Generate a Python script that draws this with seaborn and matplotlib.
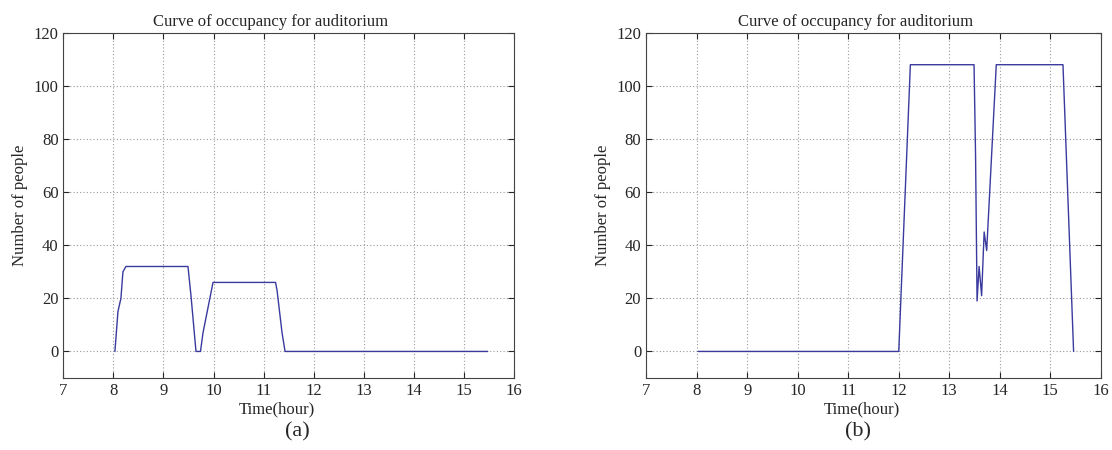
import numpy as np
import pandas as pd
import seaborn as sns
import matplotlib.pyplot as plt

# Curve (a): hours and number of people
hours_a = [8.03, 8.09, 8.15, 8.19, 8.25, 9.49, 9.55, 9.65, 9.74, 9.79, 9.99,
           11.24, 11.27, 11.37, 11.43, 15.48]
people_a = [0, 15, 20, 30, 32, 32, 21, 0, 0, 7, 26, 26, 23, 7, 0, 0]

# Curve (b)
hours_b = [8.03, 12.0, 12.23, 13.49, 13.52, 13.55, 13.59, 13.64, 13.69, 13.74,
           13.93, 15.25, 15.46]
people_b = [0, 0, 108, 108, 74, 19, 32, 21, 45, 38, 108, 108, 0]

panel_labels = ["(a)", "(b)"]
title = "Curve of occupancy for auditorium"

sns.set_style("ticks")
plt.rcParams["font.family"] = ["Liberation Serif", "DejaVu Serif"]
plt.rcParams["xtick.direction"] = "in"
plt.rcParams["ytick.direction"] = "in"

fig = plt.figure(figsize=(11.12, 4.5), dpi=100)
ax_a = fig.add_axes([0.057, 0.16, 0.405, 0.767])
ax_b = fig.add_axes([0.581, 0.16, 0.409, 0.767])

# small offsets of the titles / labels as they sit in the original figure
panels = [(ax_a, hours_a, people_a, panel_labels[0], 0.52),
          (ax_b, hours_b, people_b, panel_labels[1], 0.466)]

for ax, hrs, ppl, lab, lab_x in panels:
    df = pd.DataFrame({"hour": hrs, "people": ppl})
    sns.lineplot(data=df, x="hour", y="people", ax=ax, sort=False,
                 estimator=None, color="#3a3a9e", linewidth=1.0)
    ax.set_xlim(7, 16)
    ax.set_ylim(-10, 120)
    ax.set_xticks(range(7, 17))
    ax.set_yticks(range(0, 121, 20))
    ax.grid(True, linestyle=(0, (1, 2)), color="#999999", linewidth=0.8)
    ax.tick_params(top=True, right=True, labelsize=12, length=4, width=0.8)
    for s in ax.spines.values():
        s.set_visible(True)
        s.set_linewidth(0.8)
        s.set_color("#444444")
    ax.set_title(title, fontsize=12, pad=5, x=0.46)
    ax.set_xlabel("Time(hour)", fontsize=12, labelpad=2, x=0.475)
    ax.set_ylabel("Number of people", fontsize=12)
    ax.text(lab_x, -0.157, lab, transform=ax.transAxes, ha="center",
            va="center", fontsize=16)

fig.savefig("out.png", dpi=100)
